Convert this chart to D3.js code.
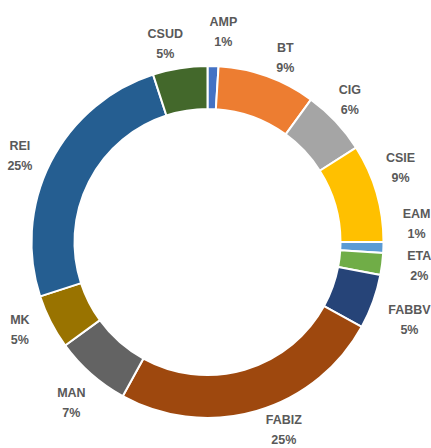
<!DOCTYPE html>
<html>
<head>
<meta charset="utf-8">
<script src="https://cdn.jsdelivr.net/npm/d3@7/dist/d3.min.js"></script>
<style>
  html, body { margin: 0; padding: 0; background: #fff; }
  svg { display: block; }
</style>
</head>
<body>
<svg id="chart" width="431" height="448"></svg>
<script>
// ---- data ----
const categories = ["AMP", "BT", "CIG", "CSIE", "EAM", "ETA", "FABBV", "FABIZ", "MAN", "MK", "REI", "CSUD"];
const shares = [1, 9, 6, 9, 1, 2, 5, 25, 7, 5, 25, 5];
const colors = ["#4472C4", "#ED7D31", "#A5A5A5", "#FFC000", "#5B9BD5", "#70AD47",
                "#264478", "#9E480E", "#636363", "#997300", "#255E91", "#43682B"];

// ---- layout (label angle nudges, in degrees, to mimic label de-overlap) ----
const labelNudge = { AMP: 2.5, BT: 3, CIG: -2, CSIE: -5, EAM: -7, ETA: -1, FABBV: 1,
                     FABIZ: -6, MAN: -1, MK: 2, REI: -2, CSUD: -3 };
const labelRadius = { AMP: 212, BT: 201, CIG: 202, CSUD: 203, EAM: 210, ETA: 213, FABBV: 216, FABIZ: 202, MAN: 210 };

const W = 431, H = 448;
const cx = 207.5, cy = 242;
const outerR = 176, innerR = 133;

const svg = d3.select("#chart");
const g = svg.append("g").attr("transform", `translate(${cx},${cy})`);

const data = categories.map((c, i) => ({ cat: c, value: shares[i], color: colors[i] }));

const pie = d3.pie().value(d => d.value).sort(null).startAngle(0).endAngle(2 * Math.PI);
const arc = d3.arc().innerRadius(innerR).outerRadius(outerR);
const arcs = pie(data);

g.selectAll("path.slice")
  .data(arcs)
  .join("path")
  .attr("class", "slice")
  .attr("d", arc)
  .attr("fill", d => d.data.color)
  .attr("stroke", "#ffffff")
  .attr("stroke-width", 2)
  .attr("stroke-linejoin", "round");

const labels = g.selectAll("text.lbl")
  .data(arcs)
  .join("text")
  .attr("class", "lbl")
  .attr("font-family", "'Liberation Sans', Arial, sans-serif")
  .attr("font-weight", "bold")
  .attr("font-size", "12.5px")
  .attr("fill", "#595959")
  .attr("text-anchor", "middle")
  .attr("transform", d => {
    const mid = (d.startAngle + d.endAngle) / 2 + (labelNudge[d.data.cat] || 0) * Math.PI / 180;
    const r = labelRadius[d.data.cat] || 207;
    const x = r * Math.sin(mid);
    const y = -r * Math.cos(mid);
    return `translate(${x},${y})`;
  });

labels.append("tspan")
  .attr("x", 0)
  .attr("y", -5)
  .text(d => d.data.cat);
labels.append("tspan")
  .attr("x", 0)
  .attr("y", 15)
  .text(d => d.data.value + "%");
</script>
</body>
</html>
